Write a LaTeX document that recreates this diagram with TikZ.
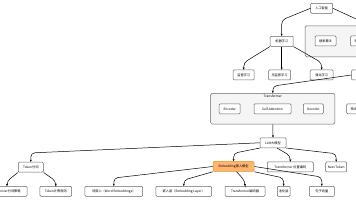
\documentclass[tikz,border=0pt]{standalone}
\usepackage{fontspec}
\setmainfont{Noto Sans CJK SC}
\usepackage{tikz}
\usetikzlibrary{arrows.meta,positioning,calc}
\definecolor{hotfill}{RGB}{255,181,112}
\definecolor{hotdraw}{RGB}{215,150,40}
\definecolor{grpfill}{RGB}{245,245,245}

\begin{document}
\begin{tikzpicture}[x=1pt, y=-1pt,
  box/.style={draw=black!60, fill=white, rounded corners=1pt, line width=0.5pt,
    minimum height=10pt, inner sep=1pt, font=\fontsize{3.2}{3.6}\selectfont},
  hot/.style={box, fill=hotfill, draw=hotdraw},
  grp/.style={draw=black!60, fill=grpfill, rounded corners=1.5pt, line width=0.5pt},
  conn/.style={-{Stealth[length=2.4pt,width=2pt]}, line width=0.5pt, rounded corners=4pt}]
  \useasboundingbox (0,0) rectangle (356,200);
  \clip (0,0) rectangle (356,200);

  \node (Sym) [grp, minimum width=75pt, minimum height=31pt] at (342.5,41.3) {};
  \node (Tf) [grp, minimum width=124.3pt, minimum height=30.7pt] at (272.8,108.7) {};
  \node (TfLabel) [below=0.3pt of Tf.north, inner sep=1pt, font=\fontsize{3.2}{3.6}\selectfont] {Transformer};

  \node (AI) [box, minimum width=22pt] at (321.7,8.3) {人工智能};
  \node (Search) [box, minimum width=21pt] at (325.5,41) {搜索算法};
  \node (Know) [box, minimum width=21pt] at (361,41) {知识表示};
  \node (ML) [box, minimum width=23pt] at (281.7,41.3) {机器学习};
  \node (SL) [box, minimum width=21pt] at (243.7,75) {监督学习};
  \node (UL) [box, minimum width=22pt] at (279.5,75) {无监督学习};
  \node (RL) [box, minimum width=23pt] at (321.7,75) {强化学习};
  \node (DL) [box, minimum width=23pt] at (363,75) {深度学习};
  \node (Enc) [box, minimum width=21pt] at (229.7,108.8) {Encoder};
  \node (SA) [box, minimum width=37pt] at (272.5,108.8) {Self-Attention};
  \node (Dec) [box, minimum width=20pt] at (313.3,108.8) {Decoder};
  \node (PT) [box, minimum width=24pt] at (358.7,108.8) {预训练模型};
  \node (LLM) [box, minimum width=26pt] at (273,142.8) {LLM大模型};

  \node (Tok) [box, minimum width=25pt] at (30.8,167.2) {Token分词};
  \node (Emb) [hot, minimum width=41pt] at (233.6,166.5) {Embedding嵌入模型};
  \node (Pos) [box, minimum width=46pt] at (290.3,167) {Transformer 位置编码};
  \node (Next) [box, minimum width=21pt] at (336.2,167) {Next Token};

  \node (TokS) [box, minimum width=40pt] at (7,191.3) {Tokenizer分词策略};
  \node (TokB) [box, minimum width=31.7pt] at (55.8,191.3) {Token计费规则};
  \node (WE) [box, minimum width=57.7pt] at (113.8,191.3) {词嵌入（Word Embeddings）};
  \node (EL) [box, minimum width=55.7pt] at (183.8,191.3) {嵌入层（Embedding Layer）};
  \node (TE) [box, minimum width=40pt] at (245,191.3) {Transformer编码器};
  \node (Pool) [box, minimum width=12.7pt] at (283.7,191.3) {池化层};
  \node (SV) [box, minimum width=25pt] at (321.8,191.3) {句子向量};

  \coordinate (AIout) at (380,30);

  \draw[conn] (AI.west) -- ([yshift=16pt]ML.north) -- (ML.north);
  \draw[conn] (AI.east) -- (AIout);
  \draw[conn] (ML.south west) -- ([yshift=7pt]SL.north) -- (SL.north);
  \draw[conn] (ML.south) -- (ML.south |- UL.north);
  \draw[conn] (ML.south east) -- ([yshift=7pt]RL.north) -- (RL.north);
  \draw[conn] (DL.west) -- ([yshift=7pt]Tf.north) -- (Tf.north);
  \draw[conn] (Tf.south) -- (LLM.north);

  \draw[conn] (LLM.west) -- ([yshift=9pt]Tok.north) -- (Tok.north);
  \draw[conn] (LLM.south west) -- ([yshift=8pt]Emb.north) -- (Emb.north);
  \draw[conn] ([xshift=4pt]LLM.south) -- ([yshift=6pt]Pos.north) -- (Pos.north);
  \draw[conn] (LLM.south east) -- ([yshift=8pt]Next.north) -- (Next.north);

  \draw[conn] (Tok.south west) -- ([yshift=5pt]TokS.north) -- (TokS.north);
  \draw[conn] (Tok.south east) -- ([yshift=5pt]TokB.north) -- (TokB.north);
  \draw[conn] (Emb.west) -- ([yshift=8pt]WE.north) -- (WE.north);
  \draw[conn] (Emb.south west) -- ([yshift=6pt]EL.north) -- (EL.north);
  \draw[conn] ([xshift=3pt]Emb.south) -- ([yshift=5pt]TE.north) -- (TE.north);
  \draw[conn] (Emb.south east) -- ([yshift=8pt]Pool.north) -- (Pool.north);
  \draw[conn] (Emb.east) -- ([yshift=9pt]SV.north) -- (SV.north);
\end{tikzpicture}
\end{document}
